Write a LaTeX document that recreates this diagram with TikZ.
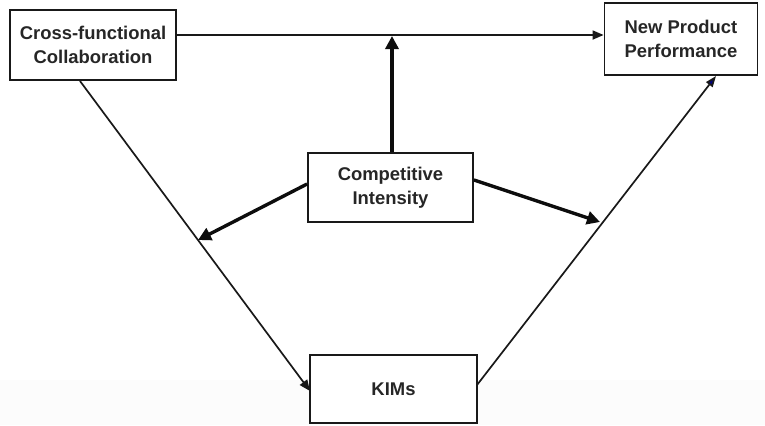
\documentclass[tikz,border=0pt]{standalone}
\usepackage{fontspec}
\setmainfont{Liberation Sans}
\usetikzlibrary{arrows.meta}
\begin{document}
\begin{tikzpicture}[x=1bp,y=-1bp,
  conceptbox/.style={draw=black!90, line width=1.8bp, fill=white, inner sep=0pt,
    font=\fontsize{18.5}{24}\selectfont\bfseries, align=center, text=black!85},
  link/.style={draw=black!90, line width=1.7bp, -{Triangle[length=11bp,width=9bp]}},
  moderator/.style={draw=black!95, line width=3.4bp, -{Triangle[length=13bp,width=13bp]}}
]
% canvas and faint lower band
\useasboundingbox (0,0) rectangle (765,425);
\fill[white] (0,0) rectangle (765,425);
\fill[black!1] (0,380) rectangle (765,425);

% constructs
\node[conceptbox, minimum width=166bp, minimum height=70bp] (cfc) at (93,45)
  {Cross-functional\\Collaboration};
\node[conceptbox, minimum width=153bp, minimum height=72bp] (npp) at (681,39)
  {New Product\\Performance};
\node[conceptbox, minimum width=165bp, minimum height=69bp] (ci) at (390.5,187.5)
  {Competitive\\Intensity};
\node[conceptbox, minimum width=167bp, minimum height=68bp] (kim) at (393.5,389)
  {KIMs};

% direct effect
\draw[link] (cfc.east |- 0,35) -- (npp.west |- 0,35);

% mediated path
\coordinate (cfcOut) at (80,81);
\coordinate (kimIn) at (310,391);
\draw[link] (cfcOut) -- (kimIn);
\coordinate (kimOut) at (477,385);
\coordinate (nppIn) at (716,76);
\draw[link, -{Triangle[length=11bp,width=8bp,fill=blue!50!black]}] (kimOut) -- (nppIn);

% moderating effects
\coordinate (onDirect) at (392,36);
\coordinate (onLeft) at (198,240);
\coordinate (onRight) at (600,222);
\draw[moderator] (ci.north -| onDirect) -- (onDirect);
\draw[moderator] (ci.west |- 0,184) -- (onLeft);
\draw[moderator] (ci.east |- 0,180) -- (onRight);
\end{tikzpicture}
\end{document}
